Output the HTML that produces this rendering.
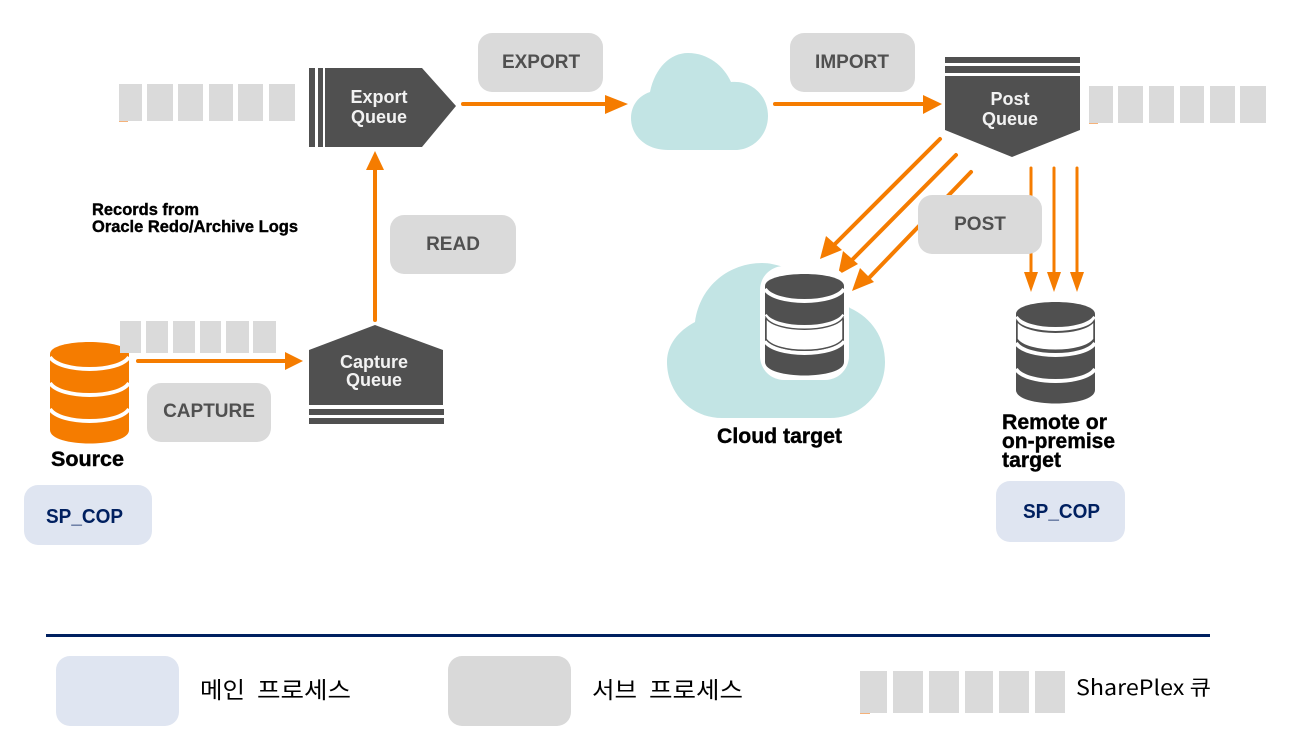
<!DOCTYPE html>
<html><head><meta charset="utf-8"><style>
html,body{margin:0;padding:0;background:#fff}
svg{display:block}
.g{font:bold 19px "Liberation Sans",sans-serif;fill:#505050;text-anchor:middle}
.w{font:bold 18px "Liberation Sans",sans-serif;fill:#f2f2f2;text-anchor:middle}
.b{font:bold 21px "Liberation Sans",sans-serif;fill:#000;stroke:#000;stroke-width:.4}
.s{font:bold 16.5px "Liberation Sans",sans-serif;fill:#000;stroke:#000;stroke-width:.4}
.n{font:bold 20px "Liberation Sans",sans-serif;fill:#002060}
.k{font:23px "Noto Sans CJK KR","Liberation Sans",sans-serif;fill:#000}
.q{font:21px "Noto Sans CJK KR","Liberation Sans",sans-serif;fill:#000}
</style></head><body>
<svg width="1294" height="746" viewBox="0 0 1294 746" xmlns="http://www.w3.org/2000/svg">
<defs>
<g id="cyl">
<path d="M0 12C0-4 79-4 79 12V88C79 106 0 106 0 88Z"/>
<path d="M0 15C10 31 69 31 79 15M0 41C10 57 69 57 79 41M0 67C10 83 69 83 79 67" fill="none" stroke="#fff" stroke-width="4"/>
</g>
</defs>

<!-- clouds -->
<path fill="#c2e4e4" d="M650 92C655 68 670 53 688 53C708 53 724 66 731 82C752 80 768 96 768 116C768 136 752 150 735 150H668C646 150 631 136 631 118C631 106 638 96 650 92Z"/>
<path fill="#c2e4e4" d="M695 322C700 285 730 263 762 263C790 263 830 290 850 308C872 318 885 338 885 362C885 394 860 418 830 418H722C690 418 667 392 667 362C667 345 678 331 695 322Z"/>

<!-- queue blocks -->
<g fill="#dadada">
<rect x="119" y="84" width="23" height="37"/><rect x="147" y="84" width="26" height="37"/><rect x="178" y="84" width="25" height="37"/><rect x="209" y="84" width="24" height="37"/><rect x="238" y="84" width="25" height="37"/><rect x="269" y="84" width="26" height="37"/>
<rect x="120" y="321" width="21" height="32"/><rect x="146" y="321" width="22" height="32"/><rect x="173" y="321" width="22" height="32"/><rect x="200" y="321" width="21" height="32"/><rect x="226" y="321" width="23" height="32"/><rect x="253" y="321" width="23" height="32"/>
<rect x="1089" y="86" width="24" height="37"/><rect x="1118" y="86" width="25" height="37"/><rect x="1149" y="86" width="25" height="37"/><rect x="1180" y="86" width="24" height="37"/><rect x="1210" y="86" width="25" height="37"/><rect x="1240" y="86" width="26" height="37"/>
<rect x="860" y="671" width="27" height="42"/><rect x="893" y="671" width="30" height="42"/><rect x="929" y="671" width="30" height="42"/><rect x="965" y="671" width="28" height="42"/><rect x="999" y="671" width="30" height="42"/><rect x="1035" y="671" width="30" height="42"/>
</g>
<g fill="#f5b27a">
<rect x="119" y="121" width="9" height="1"/><rect x="1089" y="123" width="9" height="1"/><rect x="860" y="713" width="10" height="1"/>
</g>

<!-- source cylinder -->
<use href="#cyl" x="50" y="342" fill="#f57c00"/>
<rect x="120" y="321" width="21" height="32" fill="#dadada"/>

<!-- dark queues -->
<g fill="#505050">
<rect x="309" y="68" width="6" height="79"/><rect x="318" y="68" width="5" height="79"/>
<path d="M325 68H422L456 106L422 147H325Z"/>
<path d="M309 350L375 325L443 350V405H309Z"/>
<rect x="309" y="409" width="135" height="6"/><rect x="309" y="418" width="135" height="6"/>
<rect x="945" y="57" width="135" height="6"/><rect x="945" y="66" width="135" height="7"/>
<path d="M945 76H1080V130L1012 157L945 130Z"/>
</g>
<text class="w" x="379" y="103">Export</text><text class="w" x="379" y="123">Queue</text>
<text class="w" x="374" y="368">Capture</text><text class="w" x="374" y="386">Queue</text>
<text class="w" x="1010" y="105">Post</text><text class="w" x="1010" y="125">Queue</text>

<!-- arrows -->
<g stroke="#f57c00" stroke-width="4" fill="none" stroke-linecap="round">
<path d="M463 104H610M775 104H925M138 361H285M375 320V170"/>
<path d="M940 139L832 247M956 155L850 262M971 172L868 279" stroke-width="4"/>
<path d="M1031 168V275M1054 168V275M1077 168V275" stroke-width="3"/>
</g>
<g fill="#f57c00">
<path d="M605 95L628 104L605 114Z"/><path d="M923 95L942 104L923 114Z"/><path d="M285 352L303 361L285 370Z"/><path d="M366 170L375 151L384 170Z"/>
<path d="M826 236L842 250L820 259Z"/><path d="M843 251L858 264L838 275Z"/><path d="M860 268L874 282L852 291Z"/>
<path d="M1024 272H1038L1031 292Z"/><path d="M1047 272H1061L1054 292Z"/><path d="M1070 272H1084L1077 292Z"/>
</g>

<!-- process boxes -->
<g fill="#dadada">
<rect x="478" y="33" width="125" height="59" rx="14"/>
<rect x="790" y="33" width="125" height="59" rx="14"/>
<rect x="390" y="215" width="126" height="59" rx="14"/>
<rect x="147" y="383" width="124" height="59" rx="14"/>
<rect x="918" y="195" width="124" height="59" rx="14"/>
</g>
<text class="g" x="541" y="68">EXPORT</text>
<text class="g" x="852" y="68">IMPORT</text>
<text class="g" x="453" y="250">READ</text>
<text class="g" x="209" y="417">CAPTURE</text>
<text class="g" x="980" y="230">POST</text>

<!-- cylinders -->
<rect x="760" y="266" width="89" height="114" rx="24" fill="#fff"/>
<g fill="#505050">
<use href="#cyl" x="765" y="274"/>
<use href="#cyl" x="1016" y="302"/>
</g>
<path d="M766 318C776 333 833 333 843 318V339C833 354 776 354 766 339Z" fill="#fff" stroke="#505050" stroke-width="1.5"/>
<path d="M1017 321C1027 336 1084 336 1094 321V339C1084 354 1027 354 1017 339Z" fill="#fff" stroke="#505050" stroke-width="1.5"/>

<!-- labels -->
<text class="s" x="92" y="215" textLength="107" lengthAdjust="spacingAndGlyphs">Records from</text>
<text class="s" x="92" y="232" textLength="206" lengthAdjust="spacingAndGlyphs">Oracle Redo/Archive Logs</text>
<text class="b" x="51" y="466" textLength="73" lengthAdjust="spacingAndGlyphs">Source</text>
<text class="b" x="717" y="443" textLength="125" lengthAdjust="spacingAndGlyphs">Cloud target</text>
<text class="b" x="1002" y="429" textLength="105" lengthAdjust="spacingAndGlyphs">Remote or</text>
<text class="b" x="1002" y="448" textLength="113" lengthAdjust="spacingAndGlyphs">on-premise</text>
<text class="b" x="1002" y="467" textLength="59" lengthAdjust="spacingAndGlyphs">target</text>

<!-- main -->
<g fill="#dfe5f1">
<rect x="24" y="485" width="128" height="60" rx="14"/>
<rect x="996" y="481" width="129" height="61" rx="14"/>
<rect x="56" y="656" width="123" height="70" rx="14"/>
</g>
<text class="n" x="46" y="523" textLength="77" lengthAdjust="spacingAndGlyphs">SP_COP</text>
<text class="n" x="1023" y="518" textLength="77" lengthAdjust="spacingAndGlyphs">SP_COP</text>

<!-- legend -->
<rect x="46" y="634" width="1164" height="3" fill="#002060"/>
<rect x="448" y="656" width="123" height="70" rx="14" fill="#d9d9d9"/>
<text class="k" x="200" y="698" textLength="45" lengthAdjust="spacingAndGlyphs">메인</text>
<text class="k" x="257" y="698" textLength="94" lengthAdjust="spacingAndGlyphs">프로세스</text>
<text class="k" x="592" y="698" textLength="45" lengthAdjust="spacingAndGlyphs">서브</text>
<text class="k" x="649" y="698" textLength="94" lengthAdjust="spacingAndGlyphs">프로세스</text>
<text class="q" x="1076" y="695" textLength="135" lengthAdjust="spacingAndGlyphs">SharePlex 큐</text>
</svg>
</body></html>
